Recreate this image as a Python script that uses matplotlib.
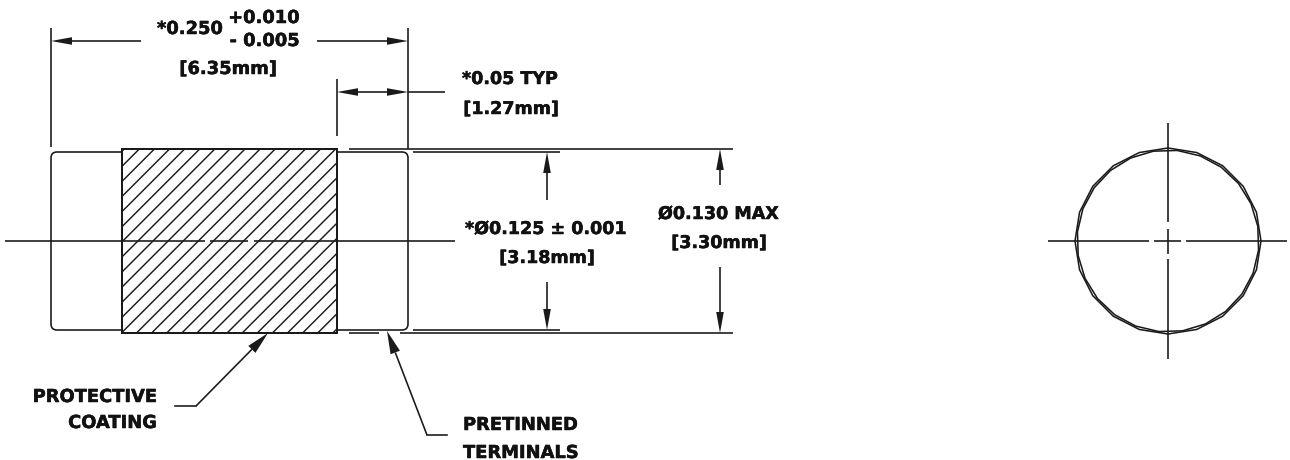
import matplotlib
matplotlib.use("Agg")
import matplotlib.pyplot as plt
import matplotlib.patheffects as pe
import numpy as np
from matplotlib.patches import FancyBboxPatch, Rectangle, RegularPolygon

W, H = 1290, 461
DPI = 90
INK = "#1a1a1a"

plt.rcParams["font.family"] = ["DejaVu Sans"]

# plain line segments, (x0, y0, x1, y1) in picture pixels
extension_lines = [
    (51, 29, 51, 148), (408, 29, 408, 150), (337, 80, 337, 137),
    (349, 150, 733, 150), (413, 153, 560, 153),
    (413, 331, 560, 331), (349, 334, 379, 334), (400, 334, 733, 334),
    (408, 93, 445, 93),
]
center_lines = [
    (5, 241.5, 205, 241.5), (210, 241.5, 248, 241.5), (254, 241.5, 455, 241.5),
    (1168, 124, 1168, 223), (1168, 230, 1168, 255), (1168, 260, 1168, 360),
    (1048, 242, 1149, 242), (1154, 242, 1181, 242), (1186, 242, 1287, 242),
]
# dimension arrows: tail then tip
dim_arrows = [
    (141, 42, 51, 42), (317, 42, 408, 42),
    (372, 93, 337, 93), (372, 93, 408, 93),
    (547, 201, 547, 153), (547, 283, 547, 331),
    (720, 186, 720, 150), (720, 268, 720, 334),
]
# leaders: shelf, elbow, tip
leaders = [
    [(175, 407), (196, 407), (268, 334)],
    [(447, 436), (427, 436), (387, 332)],
]
labels = [
    ("*0.250", 157, 30, "left", 14.3),
    ("+0.010", 300, 19, "right", 14.3),
    ("- 0.005", 300, 42, "right", 14.3),
    ("[6.35mm]", 228, 70, "center", 14.3),
    ("*0.05 TYP", 462, 80, "left", 14),
    ("[1.27mm]", 511, 110, "center", 14),
    ("*Ø0.125 ± 0.001", 465, 230, "left", 14),
    ("[3.18mm]", 547, 259, "center", 14),
    ("Ø0.130 MAX", 658, 215, "left", 14),
    ("[3.30mm]", 719, 244, "center", 14),
    ("PROTECTIVE", 157, 398, "right", 14.3),
    ("COATING", 157, 424, "right", 14.3),
    ("PRETINNED", 463, 426, "left", 14.3),
    ("TERMINALS", 463, 454, "left", 14.3),
]


def arrow(ax, tail, tip, length=21, half=3.8):
    tail = np.array(tail, float)
    tip = np.array(tip, float)
    d = (tip - tail) / np.hypot(*(tip - tail))
    n = np.array([-d[1], d[0]])
    base = tip - d * length
    ax.plot([tail[0], base[0]], [tail[1], base[1]], color=INK, lw=1.3, zorder=3,
            solid_capstyle="butt")
    tri = np.array([tip, base + n * half, base - n * half])
    ax.fill(tri[:, 0], tri[:, 1], color=INK, lw=0, zorder=4)


fig = plt.figure(figsize=(W / DPI, H / DPI), dpi=DPI)
ax = fig.add_axes([0, 0, 1, 1])
ax.set_xlim(0, W)
ax.set_ylim(H, 0)
ax.axis("off")

# terminals body with round corners, coating drawn on top of it
ax.add_patch(FancyBboxPatch((57, 159), 345, 166, boxstyle="round,pad=6,rounding_size=6",
                            fc="white", ec=INK, lw=1.3, zorder=1))
coat = Rectangle((122, 150), 215, 184, fc="white", ec=INK, lw=1.6, zorder=2)
ax.add_patch(coat)

# 45 degree section hatch, clipped to the coating
for c in np.arange(289.3 - 15.1 * 1, 700, 15.1):
    line, = ax.plot([c - 150, c - 340], [150, 340], color=INK, lw=1.15, zorder=2)
    line.set_clip_path(coat)
ax.add_patch(Rectangle((122, 150), 215, 184, fc="none", ec=INK, lw=1.6, zorder=2.5))

for x0, y0, x1, y1 in extension_lines + center_lines:
    ax.plot([x0, x1], [y0, y1], color=INK, lw=1.3, zorder=3, solid_capstyle="butt")

for x0, y0, x1, y1 in dim_arrows:
    arrow(ax, (x0, y0), (x1, y1))

for pts in leaders:
    ax.plot([p[0] for p in pts[:2]], [p[1] for p in pts[:2]], color=INK, lw=1.3, zorder=3)
    arrow(ax, pts[1], pts[2], length=23, half=5)

# end view, two faceted outlines that cross each other
ax.add_patch(RegularPolygon((1168, 242), 20, radius=93, orientation=0.0,
                            fc="none", ec=INK, lw=1.25, zorder=3))
ax.add_patch(RegularPolygon((1168, 242), 24, radius=91, orientation=0.1,
                            fc="none", ec=INK, lw=1.25, zorder=3))

for txt, x, y, ha, size in labels:
    ax.text(x, y, txt, ha=ha, va="center", fontsize=size, fontweight="bold", color="#111111",
            path_effects=[pe.withStroke(linewidth=0.4, foreground="#111111")])

fig.savefig("out.png", dpi=DPI, facecolor="white")
